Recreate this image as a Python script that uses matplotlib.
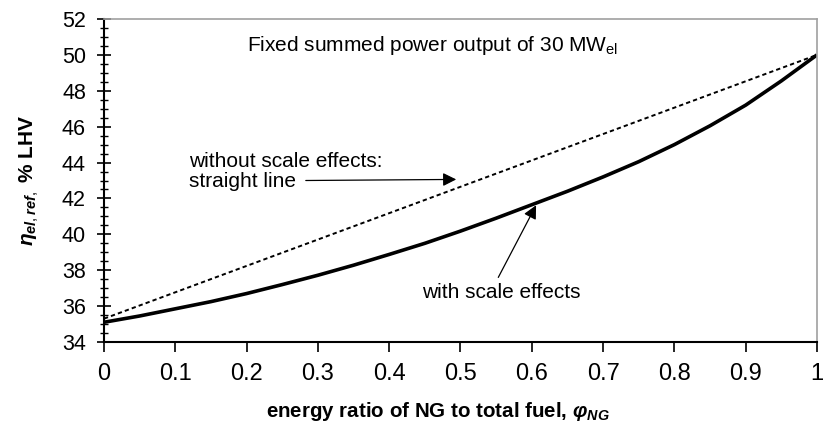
import numpy as np
import matplotlib
matplotlib.use("Agg")
import matplotlib.pyplot as plt
from matplotlib.ticker import MultipleLocator


plt.rcParams["font.family"] = ["Liberation Sans", "DejaVu Sans"]
plt.rcParams["mathtext.fontset"] = "custom"
plt.rcParams["mathtext.rm"] = "Liberation Sans"
plt.rcParams["mathtext.it"] = "Liberation Sans:italic:bold"
plt.rcParams["mathtext.bf"] = "Liberation Sans:bold"


# efficiency vs. NG share, with scale effects
phi_ng = [0.0, 0.05, 0.1, 0.15, 0.2, 0.25, 0.3, 0.35, 0.4, 0.45, 0.5,
          0.55, 0.6, 0.65, 0.7, 0.75, 0.8, 0.85, 0.9, 0.95, 1.0]
eta_scale = [35.1, 35.45, 35.85, 36.25, 36.7, 37.2, 37.72, 38.28, 38.88, 39.5, 40.18,
             40.9, 41.65, 42.4, 43.2, 44.05, 45.0, 46.05, 47.2, 48.55, 50.0]

# without scale effects: straight line between the two end points
phi_lin = [0.0, 1.0]
eta_lin = [35.3, 50.0]

xtick_labels = ["0", "0.1", "0.2", "0.3", "0.4", "0.5", "0.6", "0.7", "0.8", "0.9", "1"]


fig = plt.figure(figsize=(8.23, 4.26), dpi=100)
ax = fig.add_axes([104 / 823, 1 - 342 / 426, 713 / 823, 323 / 426])

ax.plot(phi_lin, eta_lin, color="black", lw=1.4, linestyle=(0, (2.2, 1.6)))
ax.plot(phi_ng, eta_scale, color="black", lw=2.6, solid_capstyle="butt")

ax.set_xlim(0, 1)
ax.set_ylim(34, 52)

ax.set_xticks(np.arange(0, 1.01, 0.1))
ax.set_xticklabels(xtick_labels)
ax.yaxis.set_major_locator(MultipleLocator(2))
ax.yaxis.set_minor_locator(MultipleLocator(0.5))

ax.tick_params(axis="x", which="major", direction="out", length=7, width=1.2,
               labelsize=17, pad=8)
ax.tick_params(axis="y", which="major", direction="inout", length=10, width=1.2,
               labelsize=15.5, pad=8)
ax.tick_params(axis="y", which="minor", direction="inout", length=6, width=1.0)

for side in ["left", "bottom"]:
    ax.spines[side].set_linewidth(1.5)
    ax.spines[side].set_color("black")
for side in ["top", "right"]:
    ax.spines[side].set_linewidth(1.2)
    ax.spines[side].set_color("#a0a0a0")

ax.set_xlabel(r"energy ratio of NG to total fuel, $\varphi_{NG}$",
              fontsize=14.8, fontweight="bold")
ax.xaxis.set_label_coords(0.468, -0.18)
ax.set_ylabel(r"$\eta_{el,ref,}$ % LHV", fontsize=15, fontweight="bold")
ax.yaxis.set_label_coords(-0.088, 0.5)

ax.text(0.2006, 50.5, r"Fixed summed power output of 30 MW$_{\mathrm{el}}$",
        fontsize=15, va="center", ha="left")

ax.text(0.119, 43.5, "without scale effects:\nstraight line",
        fontsize=15, va="center", ha="left", linespacing=1.1)
ax.annotate("", xy=(0.494, 43.06), xytext=(0.283, 43.0),
            arrowprops=dict(arrowstyle="-|>", color="black", lw=0.9,
                            mutation_scale=20, shrinkA=0, shrinkB=0))

ax.text(0.446, 36.75, "with scale effects", fontsize=15, va="center", ha="left")
ax.annotate("", xy=(0.606, 41.62), xytext=(0.553, 37.6),
            arrowprops=dict(arrowstyle="-|>", color="black", lw=0.9,
                            mutation_scale=20, shrinkA=0, shrinkB=0))

fig.savefig("out.png", dpi=100)
plt.close(fig)
